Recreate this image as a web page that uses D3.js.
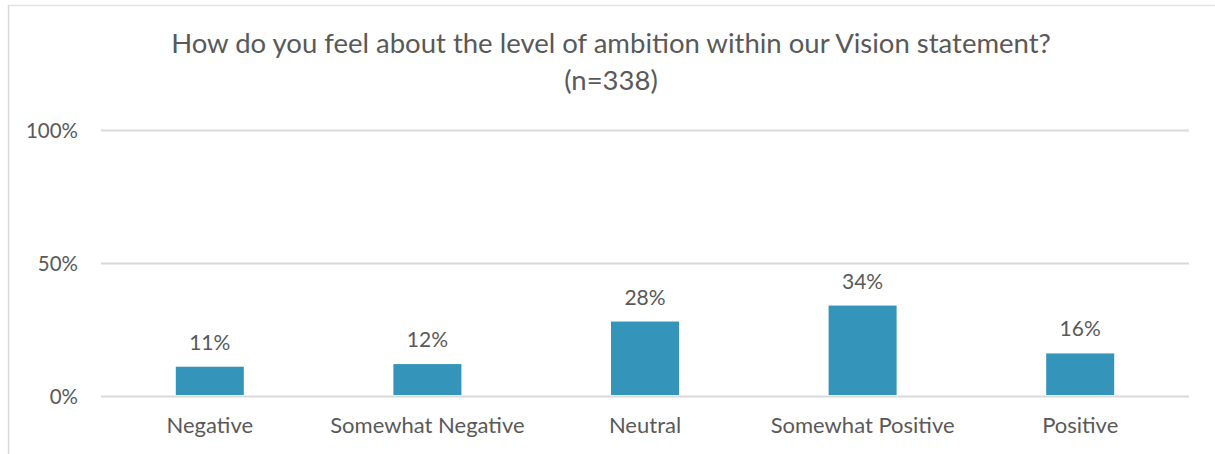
<!DOCTYPE html>
<html>
<head>
<meta charset="utf-8">
<script src="https://cdn.jsdelivr.net/npm/d3@7"></script>
<style>
  body { margin: 0; background: #fff; }
  text { font-family: Lato, "Open Sans", sans-serif; fill: #595959; }
</style>
</head>
<body>
<script>
const categories = ['Negative', 'Somewhat Negative', 'Neutral', 'Somewhat Positive', 'Positive'];
const values = [11, 12, 28, 34, 16];
const yTicks = [0, 50, 100];
const titleLines = ['How do you feel about the level of ambition within our Vision statement?', '(n=338)'];

const W = 1215, H = 454;
const margin = { top: 130, right: 26, bottom: 58, left: 101 };
const width = W - margin.left - margin.right;
const height = H - margin.top - margin.bottom;

const svg = d3.select('body').append('svg')
  .attr('width', W)
  .attr('height', H);

// outer frame (only top and left show in the crop)
svg.append('line').attr('x1', 8).attr('x2', W).attr('y1', 5.5).attr('y2', 5.5)
  .attr('stroke', '#e3e3e3').attr('stroke-width', 1.5);
svg.append('line').attr('x1', 8.5).attr('x2', 8.5).attr('y1', 5).attr('y2', H)
  .attr('stroke', '#d9d9d9').attr('stroke-width', 1.5);

svg.selectAll('.title')
  .data(titleLines)
  .enter()
  .append('text')
  .attr('class', 'title')
  .attr('x', 611)
  .attr('y', (d, i) => 53 + i * 37)
  .attr('text-anchor', 'middle')
  .style('font-size', '27.5px')
  .text((d) => d);

const g = svg.append('g')
  .attr('transform', `translate(${margin.left}, ${margin.top})`);

const x = d3.scaleBand().domain(categories).range([0, width]).paddingInner(0.6875).paddingOuter(0.34375);
const y = d3.scaleLinear().domain([0, 100]).range([height, 0]);

g.append('g')
  .call(d3.axisLeft(y).tickValues(yTicks).tickSize(-width).tickFormat((d) => d + '%').tickPadding(23))
  .call((a) => a.select('.domain').remove())
  .call((a) => a.selectAll('.tick line').attr('stroke', '#d9d9d9').attr('stroke-width', 2))
  .call((a) => a.selectAll('.tick text').style('font-size', '20.5px').attr('fill', '#595959').attr('dy', '0.35em'));

g.selectAll('.bar')
  .data(values)
  .enter()
  .append('rect')
  .attr('class', 'bar')
  .attr('fill', '#3494ba')
  .attr('x', (d, i) => x(categories[i]))
  .attr('width', x.bandwidth())
  .attr('y', (d) => y(d))
  .attr('height', (d) => height - y(d) - 1);

g.selectAll('.val')
  .data(values)
  .enter()
  .append('text')
  .attr('class', 'val')
  .attr('x', (d, i) => x(categories[i]) + x.bandwidth() / 2)
  .attr('y', (d) => y(d) - 17)
  .attr('text-anchor', 'middle')
  .style('font-size', '21px')
  .text((d) => d + '%');

g.append('g')
  .attr('transform', `translate(0, ${height})`)
  .call(d3.axisBottom(x).tickSize(0).tickPadding(21))
  .call((a) => a.select('.domain').remove())
  .call((a) => a.selectAll('.tick text').style('font-size', '22px').attr('fill', '#595959'));
</script>
</body>
</html>
